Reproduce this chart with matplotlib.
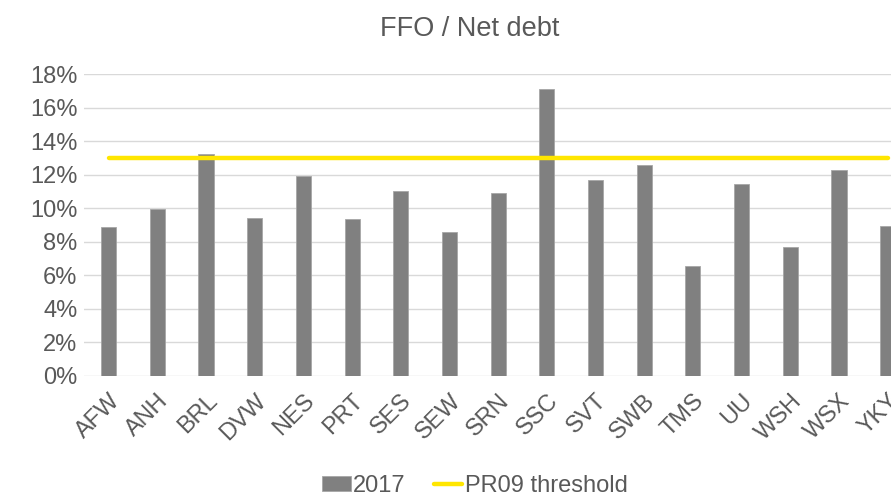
import matplotlib
matplotlib.use("Agg")
import matplotlib.pyplot as plt
from matplotlib.ticker import PercentFormatter

# values
companies = ['AFW', 'ANH', 'BRL', 'DVW', 'NES', 'PRT', 'SES', 'SEW', 'SRN',
             'SSC', 'SVT', 'SWB', 'TMS', 'UU', 'WSH', 'WSX', 'YKY']
ffo_2017 = [0.0890, 0.0995, 0.1325, 0.0942, 0.1192, 0.0934, 0.1103, 0.0858, 0.1091,
            0.1709, 0.1166, 0.1256, 0.0655, 0.1144, 0.0767, 0.1226, 0.0896]
threshold = [0.13] * len(companies)
yticks = [0, 0.02, 0.04, 0.06, 0.08, 0.10, 0.12, 0.14, 0.16, 0.18]

plt.rcParams['font.family'] = ['Liberation Sans', 'DejaVu Sans']
txt = '#595959'

fig = plt.figure(figsize=(8.91, 4.97), dpi=100)
ax = fig.add_axes([0.0946, 0.2435, 0.929, 0.6075])

x = list(range(len(companies)))
bars = ax.bar(x, ffo_2017, width=0.31, color='#808080', edgecolor='#a6a6a6',
              linewidth=0.6, label='2017', zorder=2)
line, = ax.plot(x, threshold, color='#FFE600', lw=3.2, solid_capstyle='round',
                label='PR09 threshold', zorder=3)

ax.set_xlim(-0.5, len(companies) - 0.5)
ax.set_ylim(0, 0.18)
ax.set_yticks(yticks)
ax.yaxis.set_major_formatter(PercentFormatter(1.0, decimals=0))
ax.grid(axis='y', color='#d9d9d9', lw=1.0, zorder=0)
for s in ax.spines.values():
    s.set_visible(False)
ax.tick_params(length=0, labelsize=17, colors=txt, pad=5)
ax.tick_params(axis='x', pad=10)
ax.set_xticks(x)
ax.set_xticklabels(companies, rotation=45, ha='right', rotation_mode='anchor')

fig.text(0.5275, 0.942, 'FFO / Net debt', ha='center', va='center',
         fontsize=19.5, color=txt)

leg = fig.legend([bars, line], ['2017', 'PR09 threshold'], loc='center',
                 bbox_to_anchor=(0.533, 0.022), ncol=2, frameon=False,
                 fontsize=17, handlelength=1.2, handleheight=0.6,
                 handletextpad=0.1, columnspacing=1.2)
for t in leg.get_texts():
    t.set_color(txt)

fig.savefig('out.png', dpi=100)
